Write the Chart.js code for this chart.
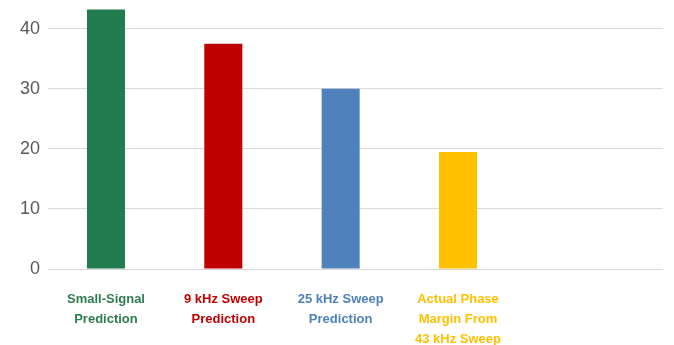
<!DOCTYPE html>
<html>
<head>
<meta charset="utf-8">
<script src="https://cdn.jsdelivr.net/npm/chart.js@4/dist/chart.umd.min.js"></script>
<style>
  html, body { margin: 0; padding: 0; background: #ffffff; overflow: hidden; }
  #wrap { width: 674px; height: 345px; }
</style>
</head>
<body>
<div id="wrap"><canvas id="c" width="674" height="345"></canvas></div>
<script>
// Phase margin estimates (degrees) by method
const categories = [
  ['Small-Signal', 'Prediction'],
  ['9 kHz Sweep', 'Prediction'],
  ['25 kHz Sweep', 'Prediction'],
  ['Actual Phase', 'Margin From', '43 kHz Sweep']
];
const phaseMargin = [43.2, 37.5, 30, 19.5];
const barColors = ['#217C4F', '#C00000', '#4F81BD', '#FFC000'];
const labelColors = ['#2E7D4F', '#C00000', '#4F81BD', '#FFC000'];
const yTicks = [0, 10, 20, 30, 40];

const points = phaseMargin.map((v, i) => ({ x: i, y: v }));

new Chart(document.getElementById('c'), {
  type: 'bar',
  data: {
    datasets: [{
      data: points,
      backgroundColor: barColors,
      borderWidth: 0,
      categoryPercentage: 1,
      barPercentage: 0.324
    }]
  },
  options: {
    responsive: false,
    animation: false,
    layout: { padding: { top: 0, right: 11, bottom: 0, left: 0 } },
    plugins: { legend: { display: false }, tooltip: { enabled: false } },
    scales: {
      x: {
        type: 'linear',
        offset: false,
        min: -0.494,
        max: 4.747,
        grid: { display: false, drawTicks: false },
        border: { display: false },
        afterBuildTicks: s => { s.ticks = categories.map((c, i) => ({ value: i })); },
        afterFit: s => { s.height = 76; s.paddingLeft = 0; s.paddingRight = 0; },
        ticks: {
          autoSkip: false,
          maxRotation: 0,
          padding: 20,
          color: ctx => labelColors[ctx.index],
          font: { family: 'Liberation Sans, Arial, sans-serif', size: 13, weight: 'bold', lineHeight: 1.55 },
          callback: (v, i) => categories[i]
        }
      },
      y: {
        min: 0,
        max: 44.8,
        grid: { color: '#D9D9D9', lineWidth: 1, drawTicks: false },
        border: { display: false },
        afterBuildTicks: s => { s.ticks = yTicks.map(v => ({ value: v })); },
        afterFit: s => { s.width = 48; s.paddingTop = 0; s.paddingBottom = 0; },
        ticks: {
          padding: 8,
          color: '#595959',
          font: { family: 'Liberation Sans, Arial, sans-serif', size: 18 }
        }
      }
    }
  }
});
</script>
</body>
</html>
